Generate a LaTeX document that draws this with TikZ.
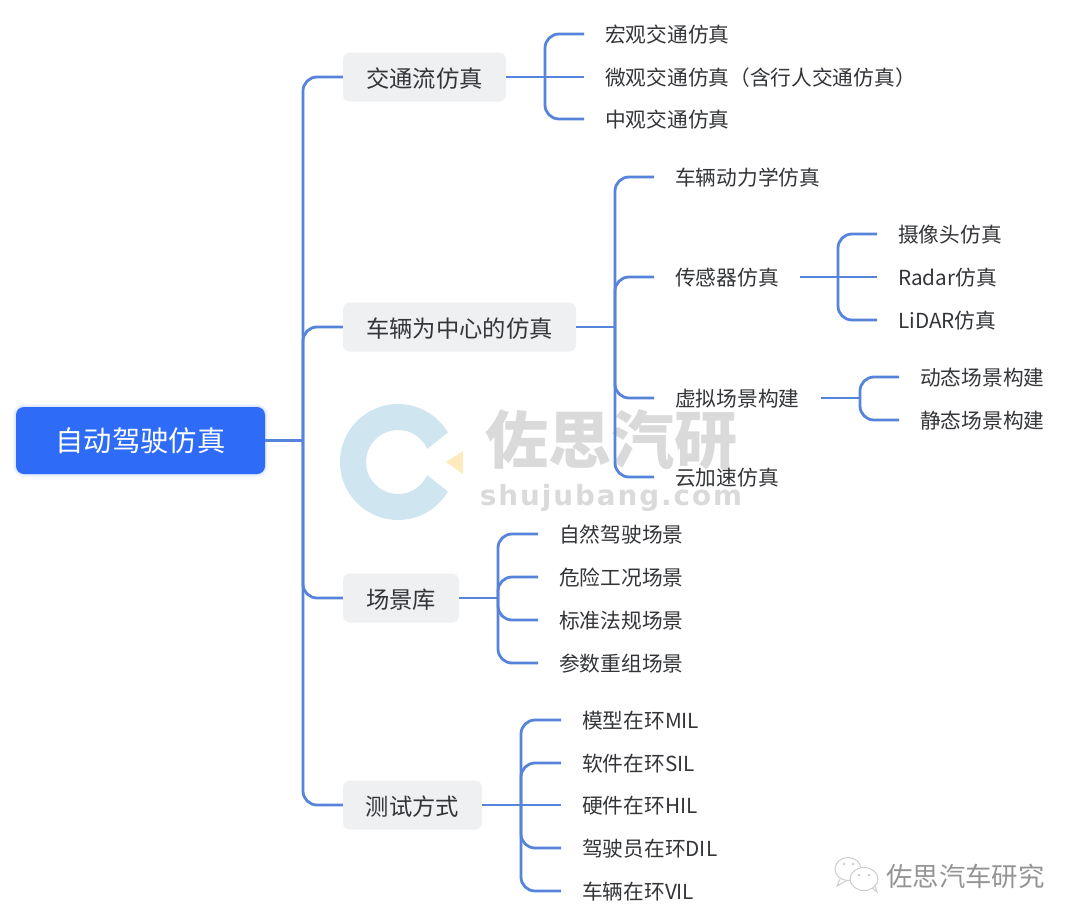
\documentclass[tikz,border=0pt]{standalone}
\usepackage{fontspec}
\setmainfont{Noto Sans CJK SC}
\newfontfamily\wmlat[LetterSpace=7]{DejaVu Sans}
\definecolor{linkblue}{HTML}{5584DA}
\definecolor{rootblue}{HTML}{2E6BF6}
\definecolor{topicgray}{HTML}{EFF0F2}
\definecolor{inkdark}{HTML}{333538}
\definecolor{wmring}{HTML}{CFE5F0}
\definecolor{wmgray}{HTML}{DADADA}
\definecolor{wmyellow}{HTML}{FDEBBE}
\definecolor{wxgray}{HTML}{CDCDCD}
\tikzset{
  x=1pt,y=-1pt,
  conn/.style={draw=linkblue,line width=2.8pt,rounded corners=14pt},
  rootbox/.style={fill=rootblue,rounded corners=8pt,text=white,minimum width=249pt,minimum height=67pt,inner sep=0pt,
    font=\fontsize{28.3}{34}\selectfont,
    preaction={draw=rootblue!7,line width=6pt},preaction={draw=rootblue!16,line width=2.5pt}},
  topicbox/.style={fill=topicgray,rounded corners=7pt,text=inkdark,minimum height=49pt,inner sep=0pt,text height=24pt,text depth=4pt,
    font=\fontsize{23.3}{28}\selectfont},
  leafbox/.style={anchor=west,text=inkdark,inner ysep=0pt,inner xsep=21pt,text height=20pt,text depth=3.5pt,
    font=\fontsize{20.7}{25}\selectfont},
}
\begin{document}
\begin{tikzpicture}
\useasboundingbox (0,0) rectangle (1080,924);
\fill[white] (0,0) rectangle (1080,924);
% watermark
\fill[wmring,even odd rule] (398,462) circle[radius=58] (398,462) circle[radius=32];
\fill[white] (411,462) -- (470,415) -- (470,509) -- cycle;
\fill[wmyellow] (446,462) -- (463,451) -- (463,474) -- cycle;
\node[text=wmgray,inner sep=0pt,font=\fontsize{63}{70}\selectfont\bfseries] (wmtitle) at (611,440) {佐思汽研};
\node[text=wmgray,inner sep=0pt,font=\fontsize{27.8}{34}\wmlat\bfseries] (wmsite) at (611,498) {shujubang.com};
% nodes
\node[rootbox] (root) at (140.5,440.5) {自动驾驶仿真};
\node[topicbox,minimum width=163pt] (t1) at (424.5,77) {交通流仿真};
\node[topicbox,minimum width=233pt] (t2) at (459.5,327) {车辆为中心的仿真};
\node[topicbox,minimum width=116pt] (t3) at (401,598) {场景库};
\node[topicbox,minimum width=139pt] (t4) at (412.5,805) {测试方式};
\node[leafbox] (a1) at (584,34) {宏观交通仿真};
\node[leafbox] (a2) at (584,77) {微观交通仿真（含行人交通仿真）};
\node[leafbox] (a3) at (584,119) {中观交通仿真};
\node[leafbox] (b1) at (654,177) {车辆动力学仿真};
\node[leafbox] (b2) at (654,277) {传感器仿真};
\node[leafbox] (b3) at (654,398) {虚拟场景构建};
\node[leafbox] (b4) at (654,477) {云加速仿真};
\node[leafbox] (c1) at (877,234) {摄像头仿真};
\node[leafbox] (c2) at (877,277) {Radar仿真};
\node[leafbox] (c3) at (877,320) {LiDAR仿真};
\node[leafbox] (d1) at (899,377) {动态场景构建};
\node[leafbox] (d2) at (899,420) {静态场景构建};
\node[leafbox] (e1) at (538,534) {自然驾驶场景};
\node[leafbox] (e2) at (538,577) {危险工况场景};
\node[leafbox] (e3) at (538,620) {标准法规场景};
\node[leafbox] (e4) at (538,663) {参数重组场景};
\node[leafbox] (f1) at (561,720) {模型在环MIL};
\node[leafbox] (f2) at (561,763) {软件在环SIL};
\node[leafbox] (f3) at (561,805) {硬件在环HIL};
\node[leafbox] (f4) at (561,848) {驾驶员在环DIL};
\node[leafbox] (f5) at (561,891) {车辆在环VIL};
% junctions
\coordinate (j0) at (303,440.5);
\coordinate (j1) at (545,77);
\coordinate (j2) at (615,327);
\coordinate (j3) at (838,277);
\coordinate (j4) at (860,398);
\coordinate (j5) at (498,598);
\coordinate (j6) at (521,805);
% connectors
\draw[conn] (root.east) -- (j0);
\foreach \k in {t1,t2,t3,t4} \draw[conn] (j0) |- (\k.west);
\draw[conn] (t1.east) -- (a2.west);
\foreach \k in {a1,a3} \draw[conn] (j1) |- (\k.west);
\draw[conn] (t2.east) -- (j2);
\foreach \k in {b1,b2,b3,b4} \draw[conn] (j2) |- (\k.west);
\draw[conn] (b2.east) -- (c2.west);
\foreach \k in {c1,c3} \draw[conn] (j3) |- (\k.west);
\draw[conn] (b3.east) -- (j4);
\foreach \k in {d1,d2} \draw[conn] (j4) |- (\k.west);
\draw[conn] (t3.east) -- (j5);
\foreach \k in {e1,e2,e3,e4} \draw[conn] (j5) |- (\k.west);
\draw[conn] (t4.east) -- (f3.west);
\foreach \k in {f1,f2,f4,f5} \draw[conn] (j6) |- (\k.west);
% wechat mark
\draw[wxgray,line width=1pt,fill=white] (848,869) ellipse[x radius=13,y radius=11.5];
\draw[wxgray,line width=1pt] (840,879) -- (837,886) -- (846,881);
\draw[wxgray,line width=1pt,fill=white] (864,879) ellipse[x radius=14,y radius=11.5];
\draw[wxgray,line width=1pt] (872,888) -- (877,892) -- (875,885);
\fill[wxgray] (844,864) circle[radius=1.3] (853,864) circle[radius=1.3] (859,875) circle[radius=1.3] (869,875) circle[radius=1.3];
\node[text=black!42,inner sep=0pt,font=\fontsize{26.4}{30}\selectfont] (wxname) at (965.5,876) {佐思汽车研究};
\end{tikzpicture}
\end{document}
